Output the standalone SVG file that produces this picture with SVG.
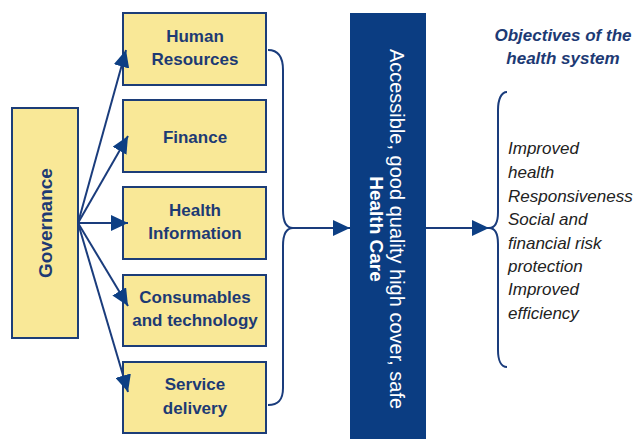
<svg xmlns="http://www.w3.org/2000/svg" width="638" height="439" viewBox="0 0 638 439">
<style>
.box{fill:#f9e897;stroke:#1c3d78;stroke-width:2}
.lbl{font-family:"Liberation Sans",Arial,sans-serif;font-weight:bold;font-size:17px;fill:#1d3a74;text-anchor:middle}
.con{fill:none;stroke:#1a3c7c;stroke-width:2}
.obj{font-family:"Liberation Sans",Arial,sans-serif;font-style:italic;font-size:17px;fill:#222}
</style>
<defs>
<marker id="ah" markerUnits="userSpaceOnUse" markerWidth="17" markerHeight="16" refX="17" refY="8" orient="auto">
<path d="M0,0 L17,8 L0,16 z" fill="#0d3f84"/>
</marker>
</defs>
<rect width="638" height="439" fill="#fff"/>
<g id="governance">
<rect class="box" x="12" y="108" width="66" height="230"/>
<text class="lbl" style="font-size:19px" transform="translate(45,223) rotate(-90)" x="0" y="7">Governance</text>
</g>
<g id="human-resources">
<rect class="box" x="123" y="13" width="143" height="72"/>
<text class="lbl" x="195" y="42">Human</text>
<text class="lbl" x="195" y="65">Resources</text>
</g>
<g id="finance">
<rect class="box" x="123" y="100" width="143" height="72"/>
<text class="lbl" x="195" y="143">Finance</text>
</g>
<g id="health-information">
<rect class="box" x="123" y="187" width="143" height="72"/>
<text class="lbl" x="195" y="216">Health</text>
<text class="lbl" x="195" y="239">Information</text>
</g>
<g id="consumables">
<rect class="box" x="123" y="275" width="143" height="71"/>
<text class="lbl" x="195" y="303">Consumables</text>
<text class="lbl" x="195" y="326">and technology</text>
</g>
<g id="service-delivery">
<rect class="box" x="123" y="362" width="143" height="71"/>
<text class="lbl" x="195" y="390">Service</text>
<text class="lbl" x="195" y="414">delivery</text>
</g>
<g id="health-care">
<rect x="350" y="13" width="76" height="430" fill="#0b3d82"/>
<g transform="translate(388,229) rotate(90)" font-family="'Liberation Sans',Arial,sans-serif" font-size="20" fill="#fff" text-anchor="middle">
<text x="0" y="-2">Accessible, good quality high cover, safe</text>
<text x="0" y="18" font-weight="bold" font-size="19">Health Care</text>
</g>
</g>
<g id="objectives">
<text font-family="'Liberation Sans',Arial,sans-serif" font-weight="bold" font-style="italic" font-size="17" fill="#1d3a74" text-anchor="middle"><tspan x="563" y="41">Objectives of the</tspan><tspan x="563" y="64">health system</tspan></text>
<text class="obj"><tspan x="508" y="154">Improved</tspan><tspan x="508" y="178">health</tspan><tspan x="508" y="202">Responsiveness</tspan><tspan x="508" y="225">Social and</tspan><tspan x="508" y="249">financial risk</tspan><tspan x="508" y="272">protection</tspan><tspan x="508" y="295">Improved</tspan><tspan x="508" y="319">efficiency</tspan></text>
</g>
<g id="connectors">
<line class="con" x1="78" y1="223" x2="126" y2="50" marker-end="url(#ah)"/>
<line class="con" x1="78" y1="223" x2="128" y2="136" marker-end="url(#ah)"/>
<line class="con" x1="78" y1="223" x2="128" y2="223" marker-end="url(#ah)"/>
<line class="con" x1="78" y1="223" x2="128" y2="306" marker-end="url(#ah)"/>
<line class="con" x1="78" y1="223" x2="128" y2="392" marker-end="url(#ah)"/>
<path class="con" d="M268,50 C279,50 283,58 283,70 L283,210 C283,221 286,228 293,228 C286,228 283,235 283,246 L283,388 C283,399 279,405 268,405"/>
<line class="con" x1="293" y1="228" x2="350" y2="228" marker-end="url(#ah)"/>
<path class="con" d="M507,92 C501,92 498,100 498,110 L498,212 C498,222 495,228 489,228 C495,228 498,234 498,244 L498,350 C498,360 501,367 507,367"/>
<line class="con" x1="426" y1="228" x2="489" y2="228" marker-end="url(#ah)"/>
</g>
</svg>
